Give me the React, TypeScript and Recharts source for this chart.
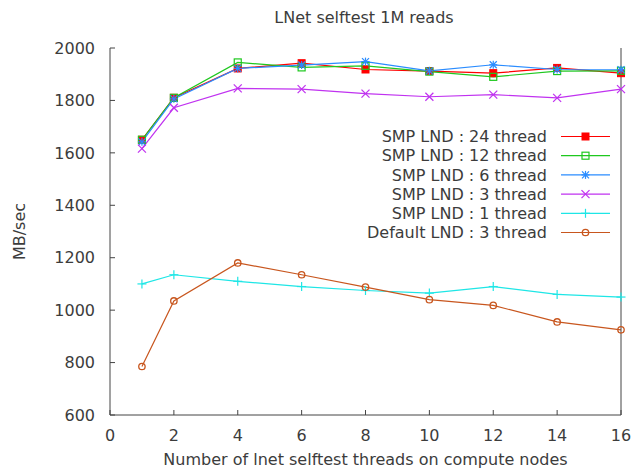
import React from 'react';
import { LineChart, Line, XAxis, YAxis } from 'recharts';

// Number of lnet selftest threads (x) and measured read bandwidth in MB/sec
const threads = [1, 2, 4, 6, 8, 10, 12, 14, 16];
const smp24 = [1650, 1810, 1922, 1942, 1918, 1912, 1904, 1924, 1904];
const smp12 = [1650, 1810, 1945, 1926, 1932, 1910, 1890, 1912, 1913];
const smp6 = [1642, 1806, 1922, 1935, 1948, 1913, 1936, 1918, 1917];
const smp3 = [1616, 1772, 1846, 1843, 1826, 1814, 1822, 1810, 1843];
const smp1 = [1100, 1135, 1110, 1090, 1075, 1065, 1090, 1060, 1050];
const default3 = [785, 1035, 1180, 1135, 1088, 1040, 1018, 955, 925];

const xTicks = [0, 2, 4, 6, 8, 10, 12, 14, 16];
const yTicks = [600, 800, 1000, 1200, 1400, 1600, 1800, 2000];

type Shape = 'filledSquare' | 'openSquare' | 'asterisk' | 'cross' | 'plus' | 'circle';

const series: { key: string; name: string; color: string; shape: Shape; values: number[] }[] = [
  { key: 's24', name: 'SMP LND : 24 thread', color: '#ff0000', shape: 'filledSquare', values: smp24 },
  { key: 's12', name: 'SMP LND : 12 thread', color: '#1ec81e', shape: 'openSquare', values: smp12 },
  { key: 's6', name: 'SMP LND : 6 thread', color: '#2a8cff', shape: 'asterisk', values: smp6 },
  { key: 's3', name: 'SMP LND : 3 thread', color: '#c032f0', shape: 'cross', values: smp3 },
  { key: 's1', name: 'SMP LND : 1 thread', color: '#1ee6e6', shape: 'plus', values: smp1 },
  { key: 'd3', name: 'Default LND : 3 thread', color: '#c8561e', shape: 'circle', values: default3 },
];

const data = threads.map((t, i) => {
  const row: Record<string, number> = { x: t };
  series.forEach((s) => {
    row[s.key] = s.values[i];
  });
  return row;
});

const FONT = '"DejaVu Sans", sans-serif';
const TEXT = '#3c3c3c';
const AXIS = '#444444';

function Marker({ shape, cx, cy, color }: { shape: Shape; cx: number; cy: number; color: string }) {
  const r = 3.5;
  switch (shape) {
    case 'filledSquare':
      return <rect x={cx - r} y={cy - r} width={2 * r} height={2 * r} fill={color} stroke={color} strokeWidth={1} />;
    case 'openSquare':
      return <rect x={cx - r} y={cy - r} width={2 * r} height={2 * r} fill="none" stroke={color} strokeWidth={1.2} />;
    case 'asterisk':
      return (
        <g stroke={color} strokeWidth={1.2}>
          <line x1={cx - 4} y1={cy} x2={cx + 4} y2={cy} />
          <line x1={cx} y1={cy - 4} x2={cx} y2={cy + 4} />
          <line x1={cx - 3.5} y1={cy - 3.5} x2={cx + 3.5} y2={cy + 3.5} />
          <line x1={cx - 3.5} y1={cy + 3.5} x2={cx + 3.5} y2={cy - 3.5} />
        </g>
      );
    case 'cross':
      return (
        <g stroke={color} strokeWidth={1.2}>
          <line x1={cx - 4} y1={cy - 4} x2={cx + 4} y2={cy + 4} />
          <line x1={cx - 4} y1={cy + 4} x2={cx + 4} y2={cy - 4} />
        </g>
      );
    case 'plus':
      return (
        <g stroke={color} strokeWidth={1.2}>
          <line x1={cx - 4.5} y1={cy} x2={cx + 4.5} y2={cy} />
          <line x1={cx} y1={cy - 4.5} x2={cx} y2={cy + 4.5} />
        </g>
      );
    default:
      return <circle cx={cx} cy={cy} r={3.2} fill="none" stroke={color} strokeWidth={1.3} />;
  }
}

const dotFor = (shape: Shape, color: string) => (props: any) => (
  <Marker key={`${shape}-${props.index}`} shape={shape} cx={props.cx} cy={props.cy} color={color} />
);

function LegendBox() {
  const rowY0 = 136.5;
  const rowStep = 19.2;
  return (
    <svg width={639} height={472} style={{ position: 'absolute', left: 0, top: 0, pointerEvents: 'none' }}>
      {series.map((s, i) => {
        const y = rowY0 + i * rowStep;
        return (
          <g key={s.key}>
            <text x={547} y={y} dy="0.36em" textAnchor="end" fontFamily={FONT} fontSize={16} fill={TEXT}>
              {s.name}
            </text>
            <line x1={561} y1={y} x2={610} y2={y} stroke={s.color} strokeWidth={1.2} />
            <Marker shape={s.shape} cx={585.5} cy={y} color={s.color} />
          </g>
        );
      })}
    </svg>
  );
}

export default function App() {
  return (
    <div style={{ position: 'absolute', left: 0, top: 0, width: 639, height: 472, background: '#ffffff' }}>
      <LineChart width={639} height={472} data={data} margin={{ top: 48, right: 0, bottom: 0, left: 0 }}>
        <XAxis
          dataKey="x"
          type="number"
          domain={[0, 16]}
          ticks={xTicks}
          interval={0}
          height={57}
          tickSize={-5}
          tickMargin={20}
          stroke={AXIS}
          tick={{ fontFamily: FONT, fontSize: 16, fill: TEXT }}
          label={{ value: 'Number of lnet selftest threads on compute nodes', position: 'insideBottom', offset: 7, fontFamily: FONT, fontSize: 16, fill: TEXT }}
        />
        <XAxis
          xAxisId="top"
          dataKey="x"
          type="number"
          orientation="top"
          domain={[0, 16]}
          ticks={xTicks}
          interval={0}
          height={0}
          tickSize={-5}
          tick={false}
          stroke={AXIS}
        />
        <YAxis
          type="number"
          domain={[600, 2000]}
          ticks={yTicks}
          interval={0}
          width={110}
          tickSize={-5}
          tickMargin={20}
          stroke={AXIS}
          tick={{ fontFamily: FONT, fontSize: 16, fill: TEXT }}
          label={{ value: 'MB/sec', angle: -90, position: 'insideLeft', offset: 19, fontFamily: FONT, fontSize: 16, fill: TEXT, style: { textAnchor: 'middle' } }}
        />
        <YAxis
          yAxisId="right"
          orientation="right"
          type="number"
          domain={[600, 2000]}
          ticks={yTicks}
          interval={0}
          width={18}
          tickSize={-5}
          tick={false}
          stroke={AXIS}
        />
        <text x={364} y={17} textAnchor="middle" dominantBaseline="central" fontFamily={FONT} fontSize={16} fill={TEXT}>
          LNet selftest 1M reads
        </text>
        {series.map((s) => (
          <Line
            key={s.key}
            dataKey={s.key}
            name={s.name}
            type="linear"
            stroke={s.color}
            strokeWidth={1.2}
            dot={dotFor(s.shape, s.color)}
            activeDot={false}
            isAnimationActive={false}
          />
        ))}
      </LineChart>
      <LegendBox />
    </div>
  );
}
